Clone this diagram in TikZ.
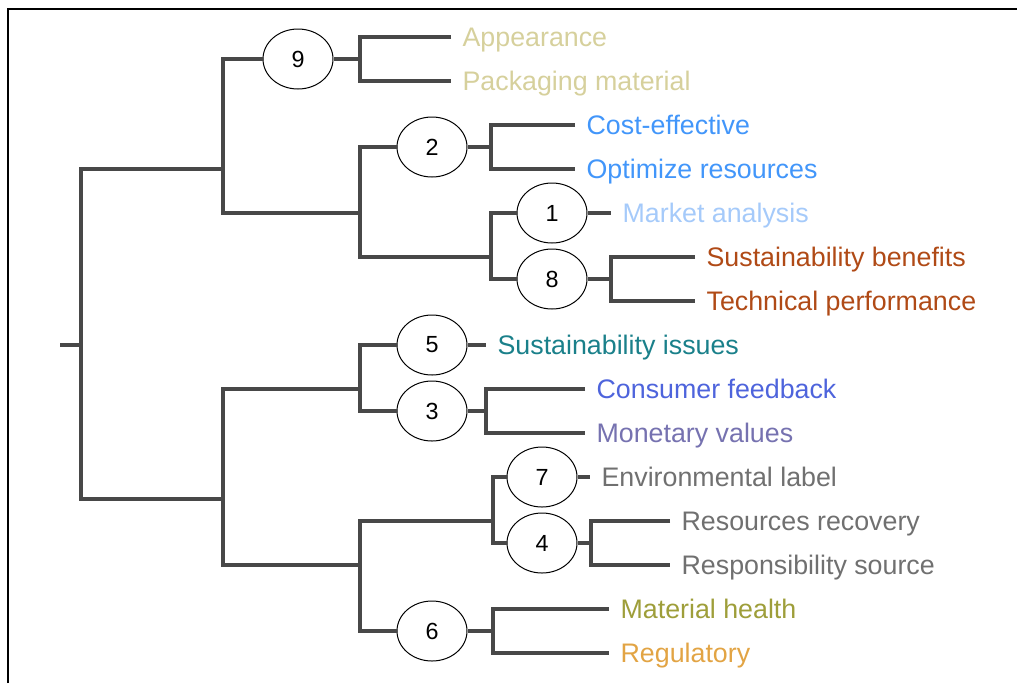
\documentclass[tikz,border=0pt]{standalone}
\usepackage{fontspec}
\setmainfont{Liberation Sans}
\usetikzlibrary{shapes.geometric}

\definecolor{khaki}{RGB}{214,208,156}
\definecolor{brightblue}{RGB}{66,150,250}
\definecolor{paleblue}{RGB}{165,202,250}
\definecolor{rust}{RGB}{176,74,22}
\definecolor{teal}{RGB}{26,128,138}
\definecolor{royal}{RGB}{78,100,220}
\definecolor{slate}{RGB}{118,114,176}
\definecolor{midgray}{RGB}{112,112,112}
\definecolor{olive}{RGB}{158,158,58}
\definecolor{tan}{RGB}{226,164,68}
\definecolor{branch}{RGB}{72,72,72}

\begin{document}
\begin{tikzpicture}[x=0.75pt, y=-0.75pt,
	clus/.style = {draw, ellipse, line width=0.75pt, fill=white, minimum width=52.5pt, minimum height=45pt, inner sep=0pt, font=\fontsize{17.5}{20}\selectfont},
	leaf/.style = {anchor=west, inner xsep=8.5pt, inner ysep=0pt, text height=14.4pt, text depth=0pt, font=\fontsize{20.1}{23}\selectfont},
	link/.style = {draw=branch, line width=2.4pt, line join=miter},
	frame/.style = {draw, line width=1.6pt}]
	\useasboundingbox (0,0) rectangle (1017,683);
	\draw[frame] (8,683) -- (8,9) -- (1017,9);
	% leaves
	\node[leaf, text=khaki] (appear) at (451,37) {Appearance};
	\node[leaf, text=khaki] (pack) at (451,81) {Packaging material};
	\node[leaf, text=brightblue] (cost) at (575,125) {Cost-effective};
	\node[leaf, text=brightblue] (optim) at (575,169) {Optimize resources};
	\node[leaf, text=paleblue] (market) at (611,213) {Market analysis};
	\node[leaf, text=rust] (susben) at (695,257) {Sustainability benefits};
	\node[leaf, text=rust] (techperf) at (695,301) {Technical performance};
	\node[leaf, text=teal] (susiss) at (486,345) {Sustainability issues};
	\node[leaf, text=royal] (consumer) at (585,389) {Consumer feedback};
	\node[leaf, text=slate] (monetary) at (585,433) {Monetary values};
	\node[leaf, text=midgray] (envlabel) at (590,477) {Environmental label};
	\node[leaf, text=midgray] (resrec) at (670,521) {Resources recovery};
	\node[leaf, text=midgray] (respsrc) at (670,565) {Responsibility source};
	\node[leaf, text=olive] (mathealth) at (609,609) {Material health};
	\node[leaf, text=tan] (regul) at (609,653) {Regulatory};
	% clusters
	\node[clus] (c9) at (298,59) {9};
	\node[clus] (c2) at (432,147) {2};
	\node[clus] (c1) at (552,213) {1};
	\node[clus] (c8) at (552,279) {8};
	\node[clus] (c5) at (432,345) {5};
	\node[clus] (c3) at (432,411) {3};
	\node[clus] (c7) at (542,477) {7};
	\node[clus] (c4) at (542,543) {4};
	\node[clus] (c6) at (432,631) {6};
	% junctions
	\coordinate (stub) at (60,345);
	\coordinate (root) at (81,345);
	\coordinate (jup) at (223,169);
	\coordinate (jlow) at (223,499);
	\coordinate (j9) at (360,59);
	\coordinate (j28) at (360,213);
	\coordinate (j2) at (491,147);
	\coordinate (j18) at (491,257);
	\coordinate (j8) at (611,279);
	\coordinate (j53) at (360,389);
	\coordinate (j3) at (486,411);
	\coordinate (j46) at (360,565);
	\coordinate (j74) at (493,521);
	\coordinate (j4) at (591,543);
	\coordinate (j6) at (493,631);
	% upper branch
	\draw[link] (stub) -- (root);
	\draw[link] (jup) -| (root) |- (jlow);
	\draw[link] (c9) -| (jup) |- (j28);
	\draw[link] (c9) -- (j9);
	\draw[link] (appear.west) -| (j9) |- (pack.west);
	\draw[link] (c2) -| (j28) |- (j18);
	\draw[link] (c2) -- (j2);
	\draw[link] (cost.west) -| (j2) |- (optim.west);
	\draw[link] (c1) -| (j18) |- (c8);
	\draw[link] (c1) -- (market.west);
	\draw[link] (c8) -- (j8);
	\draw[link] (susben.west) -| (j8) |- (techperf.west);
	% lower branch
	\draw[link] (j53) -| (jlow) |- (j46);
	\draw[link] (c5) -| (j53) |- (c3);
	\draw[link] (c5) -- (susiss.west);
	\draw[link] (c3) -- (j3);
	\draw[link] (consumer.west) -| (j3) |- (monetary.west);
	\draw[link] (j74) -| (j46) |- (c6);
	\draw[link] (c7) -| (j74) |- (c4);
	\draw[link] (c7) -- (envlabel.west);
	\draw[link] (c4) -- (j4);
	\draw[link] (resrec.west) -| (j4) |- (respsrc.west);
	\draw[link] (c6) -- (j6);
	\draw[link] (mathealth.west) -| (j6) |- (regul.west);
\end{tikzpicture}
\end{document}
